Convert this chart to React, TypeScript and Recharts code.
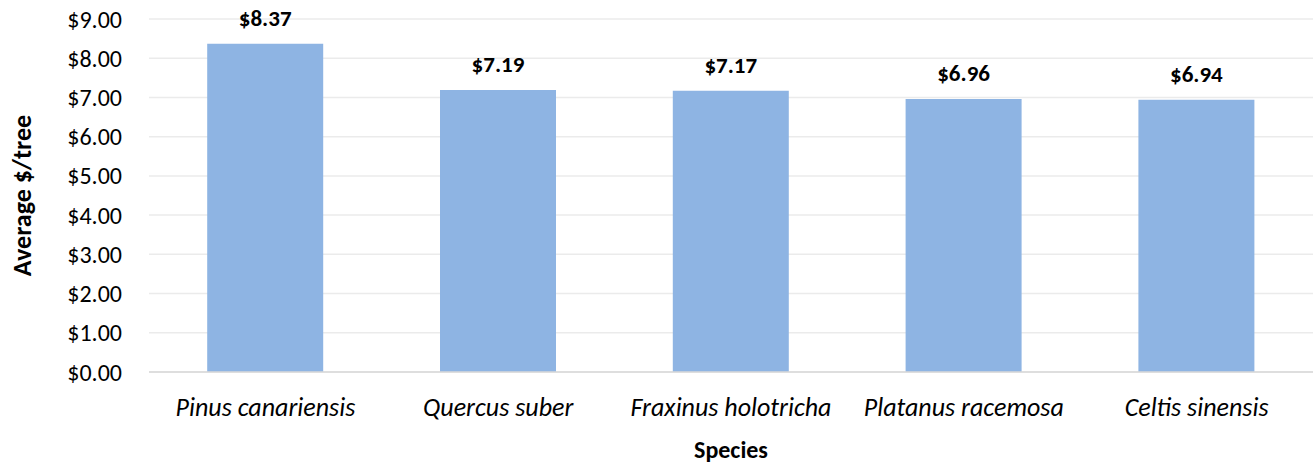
import { BarChart, Bar, XAxis, YAxis, CartesianGrid, LabelList, Label } from 'recharts';

const species = ['Pinus canariensis', 'Quercus suber', 'Fraxinus holotricha', 'Platanus racemosa', 'Celtis sinensis'];
const avgPerTree = [8.37, 7.19, 7.17, 6.96, 6.94];
const yTicks = [0, 1, 2, 3, 4, 5, 6, 7, 8, 9];

const FONT = 'Carlito, Calibri, Lato, sans-serif';
const BAR_COLOR = '#8EB4E3';

const data = species.map((name, i) => ({ name, value: avgPerTree[i] }));

const money = (v: any) => `$${Number(v).toFixed(2)}`;

export default function App() {
  return (
    <div style={{ position: 'fixed', left: 0, top: 0, width: 1314, height: 463, background: '#fff', fontFamily: FONT }}>
      <BarChart
        width={1314}
        height={463}
        data={data}
        margin={{ top: 19, right: 1, bottom: 0, left: 0 }}
        barCategoryGap="25%"
      >
        <CartesianGrid vertical={false} stroke="#EBEBEB" strokeWidth={1.5} />
        <XAxis
          dataKey="name"
          height={91}
          tickLine={false}
          tickSize={0}
          axisLine={{ stroke: '#D9D9D9', strokeWidth: 1.5 }}
          tick={{ fontSize: 26, fill: '#000', fontStyle: 'italic', fontFamily: FONT }}
          tickMargin={26}
          interval={0}
        >
          <Label
            value="Species"
            position="insideBottom"
            offset={5}
            style={{ fontSize: 24, fontWeight: 700, fill: '#000', fontFamily: FONT }}
          />
        </XAxis>
        <YAxis
          width={149}
          domain={[0, 9]}
          ticks={yTicks}
          tickFormatter={money}
          axisLine={false}
          tickLine={false}
          tickSize={0}
          tickMargin={27}
          tick={{ fontSize: 24, fill: '#000', fontFamily: FONT }}
        >
          <Label
            value="Average $/tree"
            angle={-90}
            position="insideLeft"
            offset={0}
            dx={22}
            style={{ textAnchor: 'middle', fontSize: 26, fontWeight: 700, fill: '#000', fontFamily: FONT }}
          />
        </YAxis>
        <Bar dataKey="value" fill={BAR_COLOR} isAnimationActive={false}>
          <LabelList
            dataKey="value"
            position="top"
            offset={18}
            formatter={money}
            style={{ fontSize: 23, fontWeight: 700, fill: '#000', fontFamily: FONT }}
          />
        </Bar>
      </BarChart>
    </div>
  );
}
